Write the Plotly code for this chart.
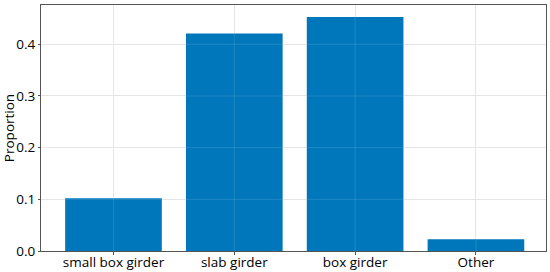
import plotly.graph_objects as go

categories = ['small box girder', 'slab girder', 'box girder', 'Other']
proportion = [0.102, 0.421, 0.453, 0.0226]
y_ticks = [0.0, 0.1, 0.2, 0.3, 0.4]

fig = go.Figure()
fig.add_trace(go.Bar(x=categories, y=proportion, marker_color='#0077bb',
                     marker_line_width=0, width=0.8))

fig.update_layout(
    width=550, height=272,
    margin=dict(l=41, r=4, t=5, b=21),
    plot_bgcolor='white', paper_bgcolor='white',
    font=dict(family='Open Sans', size=13.5, color='black'),
    showlegend=False,
    hovermode=False,
)
fig.update_xaxes(range=[-0.6, 3.58], showgrid=True, gridcolor='#e3e3e3',
                 showline=True, linecolor='#555', mirror=True,
                 ticks='outside', ticklen=3, tickcolor='#555',
                 ticklabelstandoff=-4, automargin=False)
fig.update_yaxes(range=[0, 0.476], tickvals=y_ticks, tickformat='.1f',
                 showgrid=True, gridcolor='#e3e3e3',
                 showline=True, linecolor='#555', mirror=True,
                 ticks='outside', ticklen=2, tickcolor='#555',
                 title=dict(text='Proportion', standoff=2, font=dict(size=13.5)),
                 zeroline=False, automargin=False)

# faint grid showing through the bars, like the original
for v in y_ticks[1:]:
    fig.add_hline(y=v, line_width=1, line_color='rgba(255,255,255,0.12)', layer='above')
for c in categories:
    fig.add_vline(x=c, line_width=1, line_color='rgba(255,255,255,0.12)', layer='above')

# drop the page's default body margin so the figure sits at the window's corner
fig.write_html("out.html", config={'displayModeBar': False},
               post_script="document.body.style.margin='0';")
